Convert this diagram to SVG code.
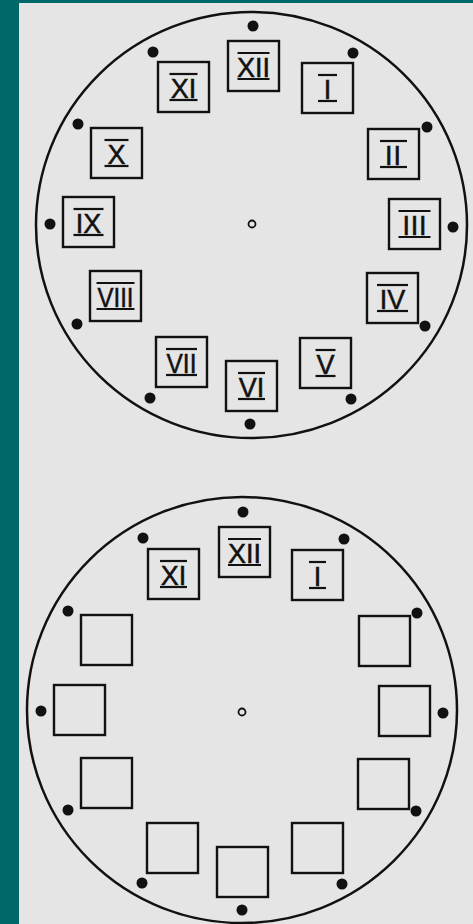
<svg xmlns="http://www.w3.org/2000/svg" width="473" height="924" viewBox="0 0 473 924">
<style>
.face{fill:none;stroke:#111;stroke-width:2.5}
.box{fill:none;stroke:#111;stroke-width:2.4}
.dot{fill:#111}
.hub{fill:none;stroke:#111;stroke-width:1.8}
.bar{stroke:#111;stroke-width:2.2}
.num{font-family:"Liberation Sans",Arial,sans-serif;font-size:27px;fill:#111;stroke:#111;stroke-width:0.5;text-anchor:middle}
</style>
<rect x="0" y="0" width="473" height="924" fill="#006868"/>
<rect x="19" y="3" width="454" height="921" fill="#e5e5e5"/>

<g id="clock-top">
  <ellipse class="face" cx="251.5" cy="225" rx="215.5" ry="213"/>
  <circle class="hub" cx="252" cy="224" r="3.5"/>
  <g id="top-dots">
    <circle class="dot" cx="253" cy="26" r="5.5"/>
    <circle class="dot" cx="353" cy="53" r="5.5"/>
    <circle class="dot" cx="427" cy="127" r="5.5"/>
    <circle class="dot" cx="453" cy="227" r="5.5"/>
    <circle class="dot" cx="425" cy="326" r="5.5"/>
    <circle class="dot" cx="351" cy="399" r="5.5"/>
    <circle class="dot" cx="250" cy="424" r="5.5"/>
    <circle class="dot" cx="150" cy="398" r="5.5"/>
    <circle class="dot" cx="77" cy="324" r="5.5"/>
    <circle class="dot" cx="50" cy="224" r="5.5"/>
    <circle class="dot" cx="78" cy="124" r="5.5"/>
    <circle class="dot" cx="153" cy="52" r="5.5"/>
  </g>
  <g id="top-XII"><rect class="box" x="228" y="41" width="51" height="50"/><line class="bar" x1="237.5" y1="53" x2="269.5" y2="53"/><text class="num" x="253.5" y="76.5">XII</text><line class="bar" x1="237.5" y1="79" x2="269.5" y2="79"/></g>
  <g id="top-I"><rect class="box" x="302" y="63" width="51" height="50"/><line class="bar" x1="318" y1="75" x2="337" y2="75"/><text class="num" x="327.5" y="98.5">I</text><line class="bar" x1="318" y1="101" x2="337" y2="101"/></g>
  <g id="top-II"><rect class="box" x="368" y="129" width="51" height="50"/><line class="bar" x1="380" y1="141" x2="407" y2="141"/><text class="num" x="393.5" y="164.5" letter-spacing="1">II</text><line class="bar" x1="380" y1="167" x2="407" y2="167"/></g>
  <g id="top-III"><rect class="box" x="389" y="199" width="51" height="50"/><line class="bar" x1="398.5" y1="211" x2="430.5" y2="211"/><text class="num" x="414.5" y="234.5" textLength="24" lengthAdjust="spacing">III</text><line class="bar" x1="398.5" y1="237" x2="430.5" y2="237"/></g>
  <g id="top-IV"><rect class="box" x="367" y="273" width="51" height="50"/><line class="bar" x1="377" y1="285" x2="408" y2="285"/><text class="num" x="392.5" y="308.5">IV</text><line class="bar" x1="377" y1="311" x2="408" y2="311"/></g>
  <g id="top-V"><rect class="box" x="300" y="338" width="51" height="50"/><line class="bar" x1="315.5" y1="350" x2="335.5" y2="350"/><text class="num" x="325.5" y="373.5">V</text><line class="bar" x1="315.5" y1="376" x2="335.5" y2="376"/></g>
  <g id="top-VI"><rect class="box" x="226" y="361" width="51" height="50"/><line class="bar" x1="238" y1="373" x2="265" y2="373"/><text class="num" x="251.5" y="396.5">VI</text><line class="bar" x1="238" y1="399" x2="265" y2="399"/></g>
  <g id="top-VII"><rect class="box" x="156" y="337" width="51" height="50"/><line class="bar" x1="166" y1="349" x2="197" y2="349"/><text class="num" x="181.5" y="372.5" textLength="30" lengthAdjust="spacingAndGlyphs">VII</text><line class="bar" x1="166" y1="375" x2="197" y2="375"/></g>
  <g id="top-VIII"><rect class="box" x="90" y="271" width="51" height="50"/><line class="bar" x1="96.5" y1="283" x2="134.5" y2="283"/><text class="num" x="115.5" y="306.5" textLength="36" lengthAdjust="spacingAndGlyphs">VIII</text><line class="bar" x1="96.5" y1="309" x2="134.5" y2="309"/></g>
  <g id="top-IX"><rect class="box" x="63" y="197" width="51" height="50"/><line class="bar" x1="73.5" y1="209" x2="103.5" y2="209"/><text class="num" x="88.5" y="232.5">IX</text><line class="bar" x1="73.5" y1="235" x2="103.5" y2="235"/></g>
  <g id="top-X"><rect class="box" x="91" y="128" width="51" height="50"/><line class="bar" x1="104.5" y1="140" x2="128.5" y2="140"/><text class="num" x="116.5" y="163.5">X</text><line class="bar" x1="104.5" y1="166" x2="128.5" y2="166"/></g>
  <g id="top-XI"><rect class="box" x="158" y="62" width="51" height="50"/><line class="bar" x1="169.5" y1="74" x2="197.5" y2="74"/><text class="num" x="183.5" y="97.5">XI</text><line class="bar" x1="169.5" y1="100" x2="197.5" y2="100"/></g>
</g>

<g id="clock-bottom">
  <ellipse class="face" cx="242" cy="710" rx="215" ry="213"/>
  <circle class="hub" cx="242" cy="712" r="3.5"/>
  <g id="bottom-dots">
    <circle class="dot" cx="243" cy="512" r="5.5"/>
    <circle class="dot" cx="344" cy="539" r="5.5"/>
    <circle class="dot" cx="417" cy="613" r="5.5"/>
    <circle class="dot" cx="443" cy="713" r="5.5"/>
    <circle class="dot" cx="416" cy="811" r="5.5"/>
    <circle class="dot" cx="342" cy="884" r="5.5"/>
    <circle class="dot" cx="242" cy="910" r="5.5"/>
    <circle class="dot" cx="142" cy="883" r="5.5"/>
    <circle class="dot" cx="68" cy="810" r="5.5"/>
    <circle class="dot" cx="41" cy="711" r="5.5"/>
    <circle class="dot" cx="68" cy="611" r="5.5"/>
    <circle class="dot" cx="143" cy="538" r="5.5"/>
  </g>
  <g id="bottom-XII"><rect class="box" x="219" y="527" width="51" height="50"/><line class="bar" x1="228" y1="539" x2="261" y2="539"/><text class="num" x="244.5" y="562.5">XII</text><line class="bar" x1="228" y1="565" x2="261" y2="565"/></g>
  <g id="bottom-I"><rect class="box" x="292" y="550" width="51" height="50"/><line class="bar" x1="309" y1="562" x2="326" y2="562"/><text class="num" x="317.5" y="585.5">I</text><line class="bar" x1="309" y1="588" x2="326" y2="588"/></g>
  <g id="bottom-II"><rect class="box" x="359" y="616" width="51" height="50"/></g>
  <g id="bottom-III"><rect class="box" x="379" y="686" width="51" height="50"/></g>
  <g id="bottom-IV"><rect class="box" x="358" y="759" width="51" height="50"/></g>
  <g id="bottom-V"><rect class="box" x="292" y="823" width="51" height="50"/></g>
  <g id="bottom-VI"><rect class="box" x="217" y="847" width="51" height="50"/></g>
  <g id="bottom-VII"><rect class="box" x="147" y="823" width="51" height="50"/></g>
  <g id="bottom-VIII"><rect class="box" x="81" y="758" width="51" height="50"/></g>
  <g id="bottom-IX"><rect class="box" x="54" y="685" width="51" height="50"/></g>
  <g id="bottom-X"><rect class="box" x="81" y="615" width="51" height="50"/></g>
  <g id="bottom-XI"><rect class="box" x="148" y="549" width="51" height="50"/><line class="bar" x1="160" y1="561" x2="187" y2="561"/><text class="num" x="173.5" y="584.5">XI</text><line class="bar" x1="160" y1="587" x2="187" y2="587"/></g>
</g>
</svg>
